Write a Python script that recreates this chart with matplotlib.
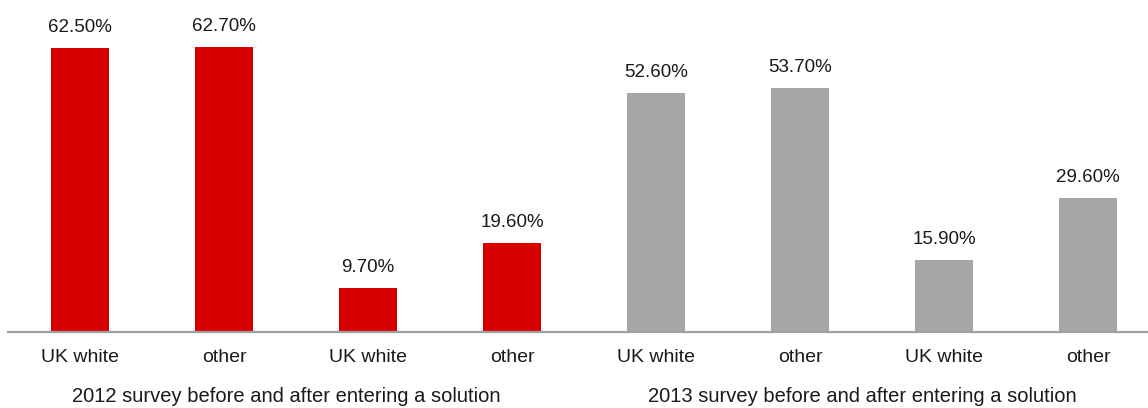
import matplotlib
matplotlib.use("Agg")
import matplotlib.pyplot as plt
import matplotlib.transforms as mtransforms

# Survey results: share of respondents, before/after entering a solution
categories = ["UK white", "other", "UK white", "other",
              "UK white", "other", "UK white", "other"]
values = [62.5, 62.7, 9.7, 19.6, 52.6, 53.7, 15.9, 29.6]
value_labels = ["62.50%", "62.70%", "9.70%", "19.60%",
                "52.60%", "53.70%", "15.90%", "29.60%"]
group_titles = ["2012 survey before and after entering a solution",
                "2013 survey before and after entering a solution"]

RED = "#d90000"
GREY = "#a6a6a6"
bar_colors = [RED] * 4 + [GREY] * 4

plt.rcParams["font.family"] = ["Liberation Sans", "DejaVu Sans"]

W, H = 1148, 408
fig = plt.figure(figsize=(W / 100, H / 100), dpi=100)
ax = fig.add_axes([8 / W, 76 / H, 1140 / W, 318 / H])

x = list(range(len(values)))
ax.bar(x, values, width=0.4, color=bar_colors, zorder=2)

for xi, v, lab in zip(x, values, value_labels):
    ax.annotate(lab, (xi, v), xytext=(0, 11.5), textcoords="offset points",
                ha="center", va="baseline", fontsize=13.5, color="#1a1a1a")

ax.set_xlim(-0.5, -0.5 + 1140 / 144)
ax.set_ylim(0, 70)

ax.set_xticks(x)
ax.set_xticklabels(categories, fontsize=14, color="#1a1a1a")
ax.tick_params(axis="x", length=0, pad=12.5)
ax.set_yticks([])

for side in ("top", "right", "left"):
    ax.spines[side].set_visible(False)
ax.spines["bottom"].set_color("#a0a0a0")
ax.spines["bottom"].set_linewidth(1.6)

trans = mtransforms.blended_transform_factory(ax.transData, ax.transAxes)
for cx, title in zip([1.43, 5.43], group_titles):
    ax.text(cx, -0.221, title, transform=trans, ha="center", va="baseline",
            fontsize=14.5, color="#1a1a1a", clip_on=False)

fig.savefig("out.png", dpi=100, facecolor="white")
